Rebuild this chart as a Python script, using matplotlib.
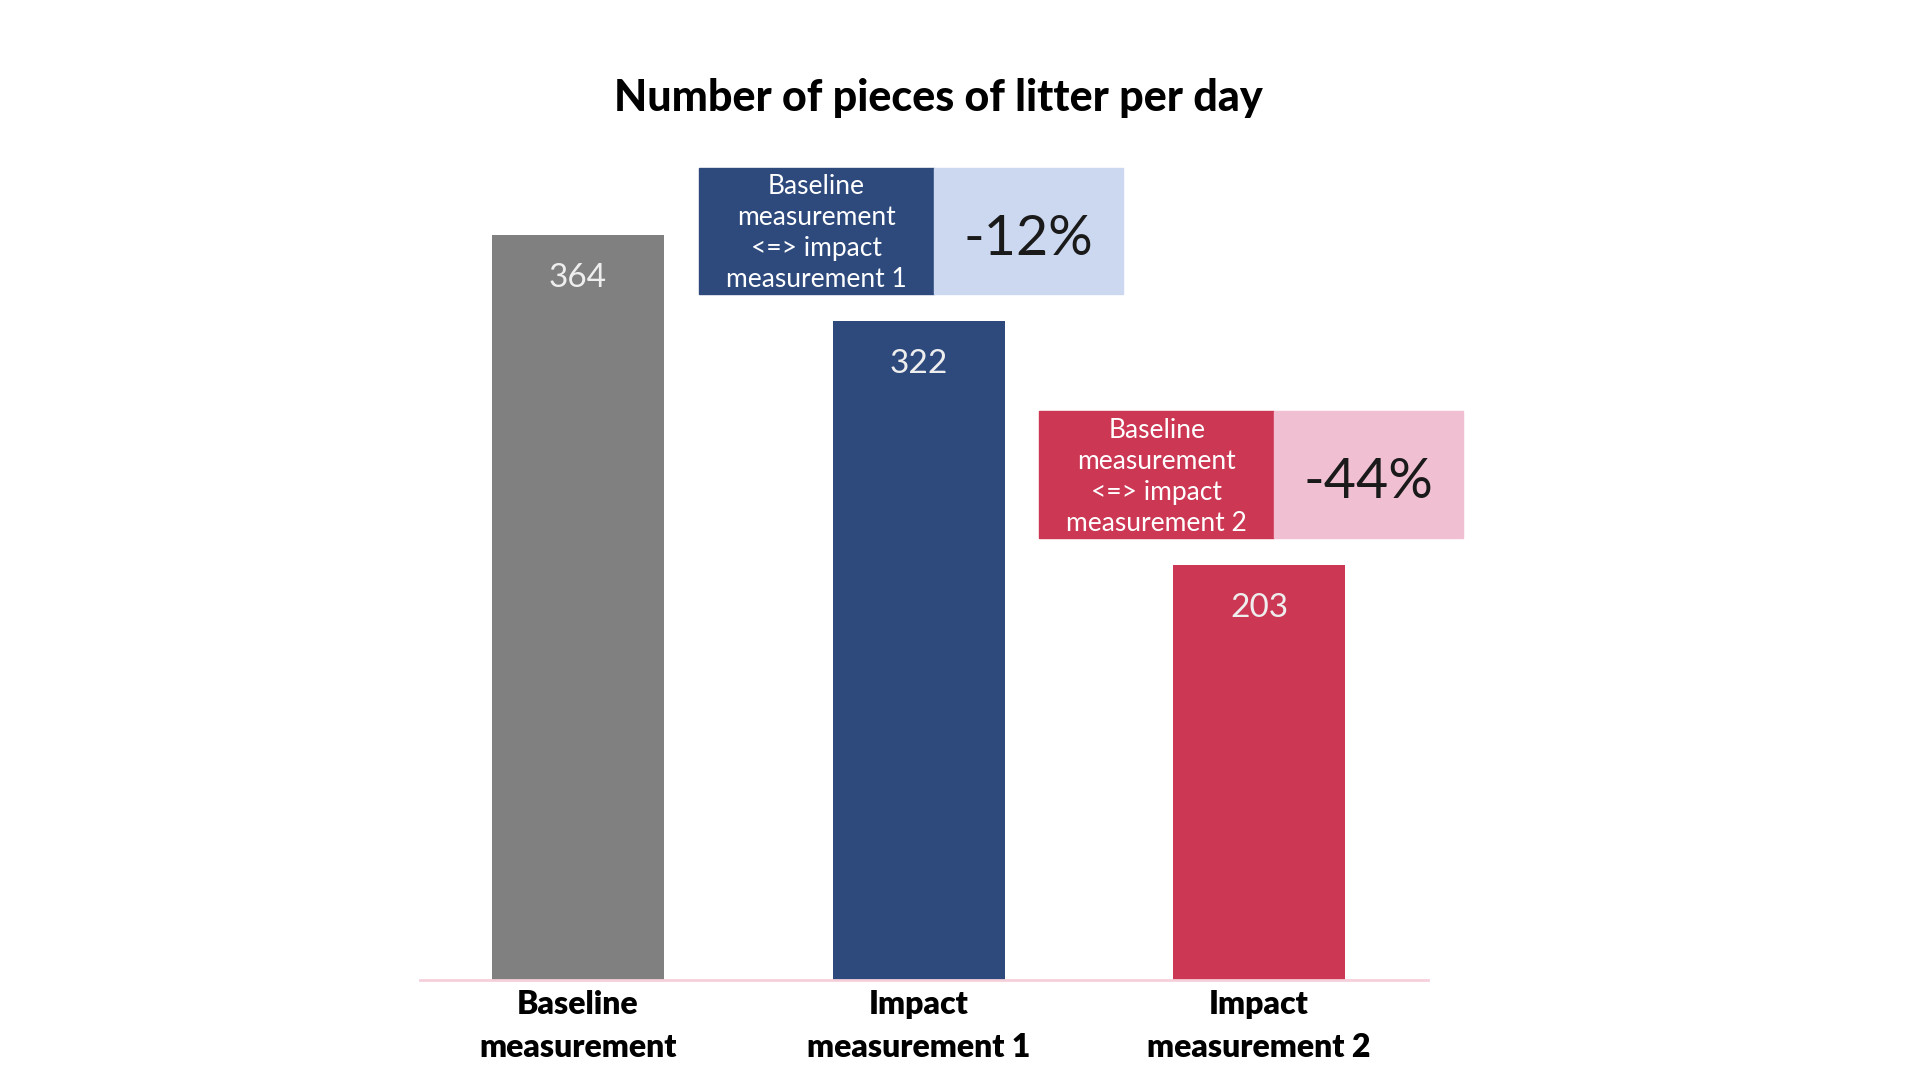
import matplotlib.pyplot as plt

plt.rcParams['font.family'] = ['Lato', 'DejaVu Sans']

# data
categories = ['Baseline\nmeasurement', 'Impact\nmeasurement 1', 'Impact\nmeasurement 2']
values = [364, 322, 203]
bar_colors = ['#808080', '#2E4A7D', '#CC3754']

# comparison boxes (against baseline)
cmp_targets = [1, 2]
cmp_texts = ['Baseline\nmeasurement\n<=> impact\nmeasurement 1',
             'Baseline\nmeasurement\n<=> impact\nmeasurement 2']
cmp_pcts = ['-12%', '-44%']
cmp_dark = ['#2E4A7D', '#CC3754']
cmp_light = ['#CCD8F0', '#F0BFD2']

fig = plt.figure(figsize=(19.2, 10.8), dpi=100)
ax = fig.add_axes([420 / 1920, 1 - 980 / 1080, 1008 / 1920, 880 / 1080])

x = list(range(len(values)))
ax.bar(x, values, width=0.505, color=bar_colors, zorder=2)
ax.set_xlim(-0.464, 2.496)
ax.set_ylim(0, 430)

for i, v in enumerate(values):
    ax.annotate(str(v), (i, v), xytext=(0, -31), textcoords='offset points',
                ha='center', va='center', fontsize=24, color='#EEEEEE')

# comparison boxes
box_h = 62
for t, txt, pct, dk, lt in zip(cmp_targets, cmp_texts, cmp_pcts, cmp_dark, cmp_light):
    y0 = values[t] + 13
    left, mid, right = t - 0.645, t + 0.045, t + 0.60
    ax.add_patch(plt.Rectangle((left, y0), mid - left, box_h, color=dk, clip_on=False, zorder=3))
    ax.add_patch(plt.Rectangle((mid, y0), right - mid, box_h, color=lt, clip_on=False, zorder=3))
    ax.text((left + mid) / 2, y0 + box_h / 2 - 1, txt, ha='center', va='center',
            color='white', fontsize=19, linespacing=1.3, zorder=4)
    ax.text((mid + right) / 2, y0 + box_h / 2 - 4, pct, ha='center', va='center',
            color='#1A1A1A', fontsize=40, zorder=4)

for s in ['top', 'right', 'left']:
    ax.spines[s].set_visible(False)
ax.spines['bottom'].set_color('#F5D0DA')
ax.spines['bottom'].set_linewidth(2)
ax.set_yticks([])
ax.set_xticks(x)
ax.set_xticklabels(categories, fontsize=23, fontweight='heavy', linespacing=1.6)
ax.tick_params(axis='x', length=0, pad=7)

fig.text(938 / 1920, 1 - 98 / 1080, 'Number of pieces of litter per day',
         ha='center', va='center', fontsize=31, fontweight='black')

fig.savefig('out.png', dpi=100, facecolor='white')
